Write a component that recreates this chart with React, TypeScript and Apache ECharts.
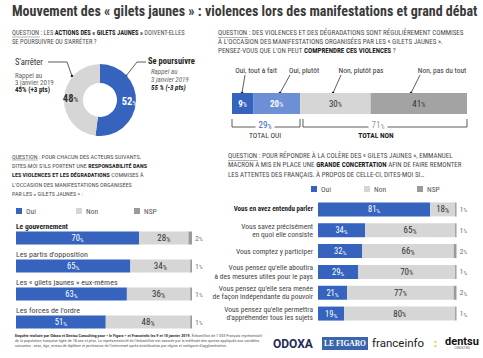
import React, { useEffect, useRef } from 'react';
import * as echarts from 'echarts';

const FONT = "'Liberation Sans Narrow', 'Roboto Condensed', 'DejaVu Sans Condensed', Roboto, sans-serif";

// Section 1 : donut
const donutNames = ['Se poursuivre', "S'arrêter"];
const donutValues = [52, 48];

// Section 2 : comprendre les violences
const compNames = ['Oui, tout à fait', 'Oui, plutôt', 'Non, plutôt pas', 'Non, pas du tout'];
const compValues = [9, 20, 30, 41];
const compTotals = [29, 71];

// Section 3 : responsabilité
const actorCats = ['Le gouvernement', "Les partis d'opposition", 'Les « gilets jaunes » eux-mêmes', "Les forces de l'ordre"];
const actorOui = [70, 65, 63, 51];
const actorNon = [28, 34, 36, 48];
const actorNsp = [2, 1, 1, 1];

// Section 4 : grande concertation
const concCats = [
  'Vous en avez entendu parler',
  'Vous savez précisément\nen quoi elle consiste',
  'Vous comptez y participer',
  "Vous pensez qu'elle aboutira\nà des mesures utiles pour le pays",
  "Vous pensez qu'elle sera menée\nde façon indépendante du pouvoir",
  "Vous pensez qu'elle permettra\nd'appréhender tous les sujets",
];
const concOui = [81, 34, 32, 29, 21, 19];
const concNon = [18, 65, 66, 70, 77, 80];
const concNsp = [1, 1, 2, 1, 2, 1];

const BLUE = '#3563be';
const BLUE2 = '#6d8fd6';
const LGRAY = '#d6d6d6';
const DGRAY = '#a3a3a3';
const NSPG = '#9a9a9a';
const TXT = '#333333';

const pctRich = (size: number, color: string, bold = false) => ({
  v: { fontSize: size, color, fill: color, fontWeight: bold ? 'bold' : 'normal', fontFamily: FONT },
  p: { fontSize: size * 0.72, color, fill: color, fontFamily: FONT, verticalAlign: 'bottom' },
});

const txt = (x: number, y: number, text: string, s: any = {}, extra: any = {}) => ({
  type: 'text',
  x,
  y,
  silent: true,
  ...extra,
  style: {
    text,
    fontFamily: FONT,
    fontSize: 6.5,
    fill: '#4d4d4d',
    verticalAlign: 'middle',
    ...s,
  },
});

const qRich = (fs: number) => ({
  u: { fill: '#4d4d4d', fontSize: fs, fontFamily: FONT },
  b: { fill: '#1f1f1f', fontSize: fs, fontFamily: FONT, fontWeight: 'bold' },
});
const q = (x: number, y: number, text: string, fs = 6.5) => txt(x, y, text, { fontSize: fs, rich: qRich(fs) });
const line = (pts: number[][], w = 0.8, color = '#333') => ({
  type: 'polyline',
  silent: true,
  shape: { points: pts },
  style: { stroke: color, lineWidth: w, fill: null },
});
const dot = (x: number, y: number) => ({ type: 'circle', silent: true, shape: { cx: x, cy: y, r: 1.3 }, style: { fill: '#222' } });

const legend = (name: string, left: number, top: number) => ({
  data: [name],
  left,
  top,
  padding: 0,
  itemWidth: 6,
  itemHeight: 6,
  itemGap: 0,
  icon: 'rect',
  selectedMode: false,
  textStyle: { fontSize: 7.5, color: '#555', fontFamily: FONT, padding: [0, 0, 0, -1] },
});

function buildOption() {
  const series: any[] = [];

  series.push({
    type: 'pie',
    center: [100, 100],
    radius: [17, 36],
    startAngle: 90,
    clockwise: true,
    silent: true,
    labelLine: { show: false },
    data: donutNames.map((n, i) => ({
      name: n,
      value: donutValues[i],
      itemStyle: { color: i === 0 ? BLUE : LGRAY },
      label: {
        show: true,
        position: 'inside',
        formatter: '{v|{c}}{p|%}',
        rich: pctRich(10.5, i === 0 ? '#ffffff' : TXT, true),
      },
    })),
  });

  const compColors = [BLUE, BLUE2, LGRAY, DGRAY];
  const compLabelColors = ['#fff', '#fff', TXT, TXT];
  compNames.forEach((n, i) => {
    series.push({
      type: 'bar',
      name: n,
      stack: 'comp',
      xAxisIndex: 0,
      yAxisIndex: 0,
      barWidth: 21,
      silent: true,
      itemStyle: { color: compColors[i] },
      label: {
        show: true,
        position: 'inside',
        formatter: '{v|{c}}{p|%}',
        rich: pctRich(9, compLabelColors[i], i < 2),
      },
      data: [compValues[i]],
    });
  });

  const addStack = (idx: number, stack: string, oui: number[], non: number[], nsp: number[], bw: number) => {
    series.push({
      type: 'bar', name: 'Oui', stack, xAxisIndex: idx, yAxisIndex: idx, barWidth: bw, silent: true,
      itemStyle: { color: BLUE },
      label: { show: true, position: 'inside', formatter: '{v|{c}}{p|%}', rich: pctRich(8.5, '#fff') },
      data: oui,
    });
    series.push({
      type: 'bar', name: 'Non', stack, xAxisIndex: idx, yAxisIndex: idx, barWidth: bw, silent: true,
      itemStyle: { color: LGRAY },
      label: { show: true, position: 'inside', formatter: '{v|{c}}{p|%}', rich: pctRich(9, TXT) },
      data: non,
    });
    series.push({
      type: 'bar', name: 'NSP', stack, xAxisIndex: idx, yAxisIndex: idx, barWidth: bw, silent: true,
      itemStyle: { color: NSPG },
      label: { show: true, position: 'right', distance: 3, formatter: '{v|{c}}{p|%}', rich: pctRich(8, '#777') },
      data: nsp,
    });
  };
  addStack(1, 'act', actorOui, actorNon, actorNsp, 13);
  addStack(2, 'conc', concOui, concNon, concNsp, 14);

  const graphic: any[] = [
    txt(12, 11, 'Mouvement des « gilets jaunes » : violences lors des manifestations et grand débat', {
      fontSize: 14, fontWeight: 'bold', fill: '#3a3a3a',
    }),
    // Section 1 question
    q(12, 33, '{u|QUESTION :} LES {b|ACTIONS DES « GILETS JAUNES »} DOIVENT-ELLES'),
    q(12, 42, "SE POURSUIVRE OU S'ARRÊTER ?"),
    line([[12, 37], [40, 37]], 0.5, '#666'),
    // donut annotations
    txt(15, 62, "S'arrêter", { fontSize: 8.5, fill: TXT }),
    txt(15, 76, 'Rappel au', { fill: '#666', fontSize: 7 }),
    txt(15, 83, '3 janvier 2019', { fill: '#666', fontSize: 7 }),
    txt(15, 90, '45% (+3 pts)', { fill: '#222', fontWeight: 'bold', fontSize: 7 }),
    line([[48, 62], [67, 62], [72, 76]]),
    dot(72, 76),
    txt(148, 61, 'Se poursuivre', { fontSize: 8.5, fill: '#1f1f1f', fontWeight: 'bold' }),
    txt(151, 72, 'Rappel au', { fill: '#666', fontStyle: 'italic', fontSize: 7 }),
    txt(151, 80, '3 janvier 2019', { fill: '#666', fontStyle: 'italic', fontSize: 7 }),
    txt(151, 88, '55 % (-3 pts)', { fill: '#222', fontStyle: 'italic', fontWeight: 'bold', fontSize: 7 }),
    line([[146, 62], [137, 62], [126, 76]]),
    dot(126, 76),
    // Section 2 question
    q(218, 33, '{u|QUESTION :} DES VIOLENCES ET DES DÉGRADATIONS SONT RÉGULIÈREMENT COMMISES', 7),
    q(218, 42, "À L'OCCASION DES MANIFESTATIONS ORGANISÉES PAR LES « GILETS JAUNES ».", 7),
    q(218, 51, "PENSEZ-VOUS QUE L'ON PEUT {b|COMPRENDRE CES VIOLENCES} ?", 7),
    line([[218, 37.5], [248, 37.5]], 0.5, '#666'),
    txt(256, 70, compNames[0], { fontSize: 7.5, fill: TXT, align: 'center' }),
    txt(304, 70, compNames[1], { fontSize: 7.5, fill: TXT, align: 'center' }),
    txt(361, 70, compNames[2], { fontSize: 7.5, fill: TXT, align: 'center' }),
    txt(442, 70, compNames[3], { fontSize: 7.5, fill: TXT, align: 'center' }),
    line([[245, 75], [242, 93]]), dot(242, 93),
    line([[290, 75], [280, 93]]), dot(280, 93),
    line([[341, 75], [333, 93]]), dot(333, 93),
    line([[420, 75], [411, 93]]), dot(411, 93),
    line([[232, 119], [232, 127], [300, 127], [300, 119]]),
    line([[303, 119], [303, 127], [467, 127], [467, 119]]),
    txt(265, 125, `{v|${compTotals[0]}}{p|%}`, {
      align: 'center', backgroundColor: '#fff', padding: [0, 3], rich: pctRich(9, BLUE),
    }),
    txt(378, 125, `{v|${compTotals[1]}}{p|%}`, {
      align: 'center', backgroundColor: '#fff', padding: [0, 3], rich: pctRich(9, '#999'),
    }),
    txt(265, 135, 'TOTAL OUI', { fontSize: 7.5, fill: TXT, align: 'center' }),
    txt(376, 135, 'TOTAL NON', { fontSize: 7.5, fill: '#1f1f1f', fontWeight: 'bold', align: 'center' }),
    // Section 3 question
    q(12, 156, '{u|QUESTION :} POUR CHACUN DES ACTEURS SUIVANTS,', 6.1),
    q(12, 165, "DITES-MOI S'ILS PORTENT UNE {b|RESPONSABILITÉ DANS}", 6.1),
    q(12, 174.5, '{b|LES VIOLENCES ET LES DÉGRADATIONS} COMMISES À', 6.1),
    q(12, 184, "L'OCCASION DES MANIFESTATIONS ORGANISÉES", 6.1),
    q(12, 193, 'PAR LES « GILETS JAUNES » :', 6.1),
    line([[12, 160], [38, 160]], 0.5, '#666'),
    // Section 4 question
    q(228, 156, '{u|QUESTION :} POUR RÉPONDRE À LA COLÈRE DES « GILETS JAUNES », EMMANUEL', 7),
    q(228, 165, 'MACRON A MIS EN PLACE UNE {b|GRANDE CONCERTATION} AFIN DE FAIRE REMONTER', 7),
    q(228, 174.5, 'LES ATTENTES DES FRANÇAIS. À PROPOS DE CELLE-CI, DITES-MOI SI…', 7),
    line([[228, 160.5], [258, 160.5]], 0.5, '#666'),
    // Footer
    txt(15, 335.5, "{b|Enquête réalisée par Odoxa et Dentsu Consulting pour « le Figaro » et Franceinfo les 9 et 10 janvier 2019.} Échantillon de 1 003 Français représentatif", {
      fontSize: 4.2, fill: '#555', rich: { b: { fontSize: 4.2, fontWeight: 'bold', fill: '#333', fontFamily: FONT } },
    }),
    txt(15, 340.5, "de la population française âgée de 18 ans et plus. La représentativité de l'échantillon est assurée par la méthode des quotas appliqués aux variables", { fontSize: 4.2, fill: '#555' }),
    txt(15, 345.5, "suivantes : sexe, âge, niveau de diplôme et profession de l'interviewé après stratification par région et catégorie d'agglomération.", { fontSize: 4.2, fill: '#555' }),
    // Logos
    txt(273, 344, 'ODOXA', { fontSize: 12, fontWeight: 'bold', fill: '#1e2a55', fontFamily: 'Roboto' }),
    { type: 'rect', silent: true, shape: { x: 322, y: 337, width: 46, height: 13 }, style: { fill: '#3b64ad' } },
    txt(345, 343.8, 'LE FIGARO', { fontSize: 7.5, fontWeight: 'bold', fill: '#fff', fontFamily: "'Liberation Serif', 'DejaVu Serif', serif", align: 'center' }),
    txt(372, 343, 'franceinfo', { fontSize: 11.5, fill: '#222', fontFamily: 'Roboto' }),
    txt(434, 343, ':', { fontSize: 11.5, fill: '#f2b300', fontFamily: 'Roboto', fontWeight: 'bold' }),
    txt(445, 341, 'dentsu', { fontSize: 11, fontWeight: 'bold', fill: '#111', fontFamily: 'Roboto' }),
    txt(462, 348.5, 'CONSULTING', { fontSize: 2.6, fill: '#555', fontFamily: 'Roboto', align: 'center' }),
  ];

  return {
    animation: false,
    backgroundColor: '#ffffff',
    textStyle: { fontFamily: FONT },
    grid: [
      { left: 232, top: 93, width: 235, height: 21 },
      { left: 16, top: 224, width: 176, height: 112 },
      { left: 318, top: 199, width: 138.5, height: 125 },
    ],
    xAxis: [0, 1, 2].map((g) => ({ type: 'value', gridIndex: g, min: 0, max: 100, show: false })),
    yAxis: [
      { type: 'category', gridIndex: 0, data: ['comp'], show: false },
      {
        type: 'category', gridIndex: 1, data: actorCats, inverse: true,
        axisLine: { show: false }, axisTick: { show: false },
        axisLabel: {
          inside: true, margin: 0, align: 'left', verticalAlign: 'bottom', padding: [0, 0, 8, 0], interval: 0,
          fontSize: 8, color: '#444', fontFamily: FONT,
          formatter: (v: string, i: number) => (i === 0 ? `{b|${v}}` : v),
          rich: { b: { fontWeight: 'bold', fontSize: 7.5, color: '#1f1f1f', fontFamily: FONT } },
        },
      },
      {
        type: 'category', gridIndex: 2, data: concCats, inverse: true,
        axisLine: { show: false }, axisTick: { show: false },
        axisLabel: {
          margin: 5, align: 'right', interval: 0, fontSize: 7.5, lineHeight: 8.3, color: '#444', fontFamily: FONT,
          formatter: (v: string, i: number) => (i === 0 ? `{b|${v}}` : v),
          rich: { b: { fontWeight: 'bold', fontSize: 7, color: '#1f1f1f', fontFamily: FONT } },
        },
      },
    ],
    legend: [
      legend('Oui', 16, 207),
      legend('Non', 76, 207),
      legend('NSP', 134, 207),
      legend('Oui', 311, 185),
      legend('Non', 364, 185),
      legend('NSP', 417, 185),
    ],
    series,
    graphic,
  };
}

export default function App() {
  const ref = useRef<HTMLDivElement>(null);
  useEffect(() => {
    const chart = echarts.init(ref.current!, null, { renderer: 'svg' });
    chart.setOption(buildOption() as any);
    return () => chart.dispose();
  }, []);
  return <div ref={ref} style={{ position: 'absolute', left: 0, top: 0, width: 483, height: 358 }} />;
}
